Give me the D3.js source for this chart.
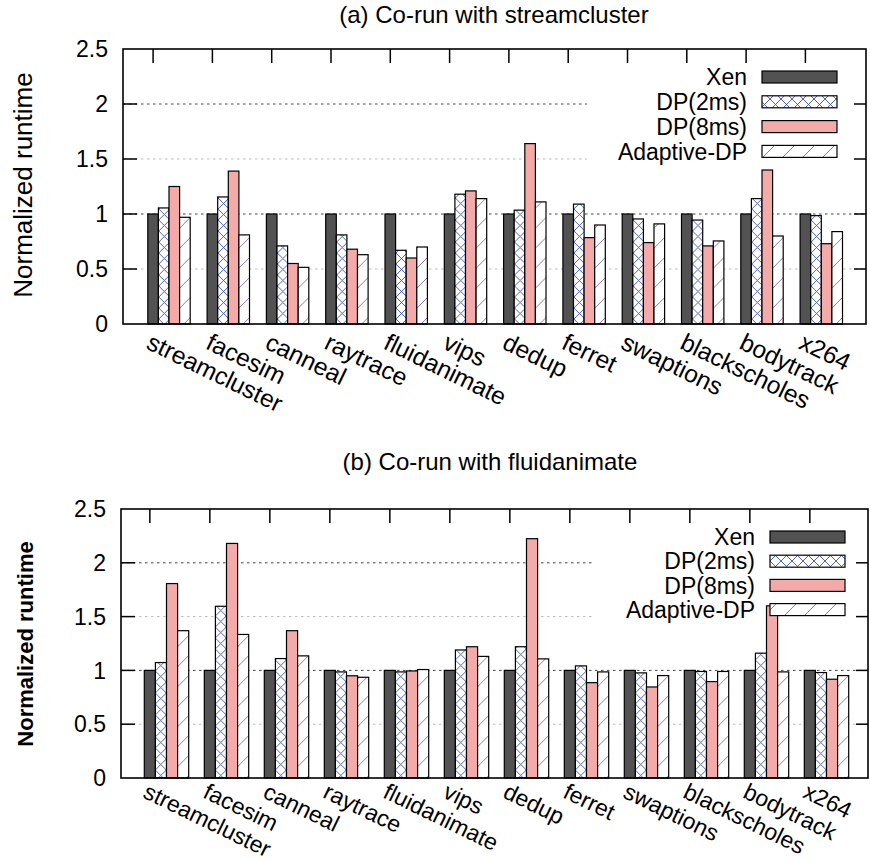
<!DOCTYPE html>
<html>
<head>
<meta charset="utf-8">
<script src="https://cdn.jsdelivr.net/npm/d3@7"></script>
<style>
  body { margin: 0; background: #fff; }
  svg { display: block; font-family: "Liberation Sans", Arial, Helvetica, sans-serif; }
</style>
</head>
<body>
<svg id="chart" width="870" height="862"></svg>
<script>
const benchmarks = ["streamcluster", "facesim", "canneal", "raytrace", "fluidanimate", "vips",
                    "dedup", "ferret", "swaptions", "blackscholes", "bodytrack", "x264"];
const seriesNames = ["Xen", "DP(2ms)", "DP(8ms)", "Adaptive-DP"];
const yTickValues = [0, 0.5, 1, 1.5, 2, 2.5];

// (a) co-run with streamcluster
const xenA = [1, 1, 1, 1, 1, 1, 1, 1, 1, 1, 1, 1];
const dp2A = [1.055, 1.155, 0.71, 0.81, 0.67, 1.18, 1.035, 1.09, 0.955, 0.945, 1.14, 0.985];
const dp8A = [1.25, 1.39, 0.55, 0.68, 0.60, 1.21, 1.64, 0.785, 0.74, 0.71, 1.40, 0.73];
const adA  = [0.97, 0.81, 0.515, 0.63, 0.70, 1.14, 1.11, 0.90, 0.91, 0.755, 0.80, 0.84];

// (b) co-run with fluidanimate
const xenB = [1, 1, 1, 1, 1, 1, 1, 1, 1, 1, 1, 1];
const dp2B = [1.073, 1.596, 1.11, 0.986, 0.986, 1.19, 1.22, 1.042, 0.977, 0.99, 1.16, 0.98];
const dp8B = [1.807, 2.18, 1.369, 0.95, 0.995, 1.22, 2.224, 0.886, 0.846, 0.896, 1.60, 0.918];
const adB  = [1.369, 1.334, 1.135, 0.936, 1.008, 1.13, 1.107, 0.986, 0.952, 0.99, 0.986, 0.952];

const svg = d3.select("#chart");
const defs = svg.append("defs");

// blue cross hatch for DP(2ms)
const cross = defs.append("pattern")
    .attr("id", "cross")
    .attr("patternUnits", "userSpaceOnUse")
    .attr("width", 11).attr("height", 11);
cross.append("rect").attr("width", 11).attr("height", 11).attr("fill", "#fff");
cross.append("path")
    .attr("d", "M0,0L11,11M11,0L0,11")
    .attr("stroke", "#3c4fc4").attr("stroke-width", 0.9);

// sparse slashes for Adaptive-DP
const slash = defs.append("pattern")
    .attr("id", "slash")
    .attr("patternUnits", "userSpaceOnUse")
    .attr("width", 20).attr("height", 20);
slash.append("rect").attr("width", 20).attr("height", 20).attr("fill", "#fff");
slash.append("path")
    .attr("d", "M0,20L20,0M-5,5L5,-5M15,25L25,15")
    .attr("stroke", "#8a6c98").attr("stroke-width", 0.9);

const fills = ["#525252", "url(#cross)", "#f5aaaa", "url(#slash)"];

function drawPanel(cfg, values) {
    const g = svg.append("g");

    const y = d3.scaleLinear().domain([0, 2.5]).range([cfg.bottom, cfg.top]);

    const x0 = d3.scaleBand()
        .domain(benchmarks)
        .range([cfg.barStart, cfg.barStart + 11 * cfg.step + cfg.groupWidth])
        .paddingInner(1 - cfg.groupWidth / cfg.step)
        .paddingOuter(0);
    const x1 = d3.scaleBand()
        .domain(seriesNames)
        .range([0, x0.bandwidth()]);

    const tickX = d => x0(d) + x1.bandwidth() / 2;

    // title
    g.append("text")
        .attr("x", cfg.titleX)
        .attr("y", cfg.titleY)
        .attr("text-anchor", "middle")
        .style("font-size", "24px")
        .text(cfg.title);

    // grid
    g.selectAll(".grid")
        .data([0.5, 1, 1.5, 2])
        .enter().append("line")
        .attr("x1", cfg.left).attr("x2", cfg.right)
        .attr("y1", d => y(d)).attr("y2", d => y(d))
        .attr("stroke", d => (d === 1 || d === 2) ? "#444" : "#bbb")
        .attr("stroke-width", 1)
        .attr("stroke-dasharray", "2.5,3.5");

    // legend background hides the grid behind the key
    g.append("rect")
        .attr("x", cfg.keyBgX)
        .attr("y", cfg.top + 1)
        .attr("width", cfg.right - cfg.keyBgX - 1)
        .attr("height", cfg.keyBgBottom - cfg.top)
        .attr("fill", "#fff");

    // bottom ticks (covered by bars)
    g.selectAll(".btick")
        .data(benchmarks)
        .enter().append("line")
        .attr("x1", tickX).attr("x2", tickX)
        .attr("y1", cfg.bottom).attr("y2", cfg.bottom - 14)
        .attr("stroke", "#000").attr("stroke-width", 1.5);

    // bars
    const groups = g.selectAll(".grp")
        .data(benchmarks)
        .enter().append("g")
        .attr("transform", d => `translate(${x0(d)},0)`);

    groups.selectAll("rect")
        .data((d, i) => values.map((arr, s) => ({ series: seriesNames[s], s: s, v: arr[i] })))
        .enter().append("rect")
        .attr("x", d => x1(d.series))
        .attr("y", d => y(d.v))
        .attr("width", x1.bandwidth())
        .attr("height", d => y(0) - y(d.v))
        .attr("fill", d => fills[d.s])
        .attr("stroke", "#000")
        .attr("stroke-width", 1.2);

    // legend
    const key = g.append("g");
    seriesNames.forEach((name, i) => {
        const cy = cfg.keyY + i * cfg.keyStep;
        key.append("text")
            .attr("x", cfg.keyTextX)
            .attr("y", cy)
            .attr("dy", "0.36em")
            .attr("text-anchor", "end")
            .style("font-size", "23px")
            .text(name);
        key.append("rect")
            .attr("x", cfg.keyTextX + 15)
            .attr("y", cy - 6)
            .attr("width", 75)
            .attr("height", 12)
            .attr("fill", fills[i])
            .attr("stroke", "#000")
            .attr("stroke-width", 1.2);
    });

    // frame
    g.append("rect")
        .attr("x", cfg.left).attr("y", cfg.top)
        .attr("width", cfg.right - cfg.left)
        .attr("height", cfg.bottom - cfg.top)
        .attr("fill", "none")
        .attr("stroke", "#000")
        .attr("stroke-width", 1.6);

    // top mirror ticks
    g.selectAll(".ttick")
        .data(benchmarks)
        .enter().append("line")
        .attr("x1", tickX).attr("x2", tickX)
        .attr("y1", cfg.top).attr("y2", cfg.top + 14)
        .attr("stroke", "#000").attr("stroke-width", 1.5);

    // y ticks left and right
    const inner = yTickValues.filter(v => v > 0 && v < 2.5);
    g.selectAll(".ltick")
        .data(inner)
        .enter().append("line")
        .attr("x1", cfg.left).attr("x2", cfg.left + 14)
        .attr("y1", d => y(d)).attr("y2", d => y(d))
        .attr("stroke", "#000").attr("stroke-width", 1.5);
    g.selectAll(".rtick")
        .data(inner)
        .enter().append("line")
        .attr("x1", cfg.right).attr("x2", cfg.right - 12)
        .attr("y1", d => y(d)).attr("y2", d => y(d))
        .attr("stroke", "#000").attr("stroke-width", 1.5);

    // y tick labels
    g.selectAll(".ylab")
        .data(yTickValues)
        .enter().append("text")
        .attr("x", cfg.left - 15)
        .attr("y", d => y(d))
        .attr("dy", "0.36em")
        .attr("text-anchor", "end")
        .style("font-size", "23px")
        .text(d => d3.format("")(d));

    // y axis title
    g.append("text")
        .attr("transform", `translate(${cfg.yTitleX},${cfg.yTitleY}) rotate(-90)`)
        .attr("text-anchor", "middle")
        .style("font-size", cfg.yTitleSize)
        .style("font-weight", cfg.yTitleWeight)
        .text("Normalized runtime");

    // x labels, rotated
    g.selectAll(".xlab")
        .data(benchmarks)
        .enter().append("text")
        .attr("transform", d => `translate(${tickX(d) - 8},${cfg.bottom + cfg.xLabOffset}) rotate(26)`)
        .attr("text-anchor", "start")
        .style("font-size", cfg.xLabSize)
        .text(d => d);
}

drawPanel({
    title: "(a) Co-run with streamcluster", titleX: 494, titleY: 23,
    left: 123, right: 866, top: 49, bottom: 324,
    barStart: 147.8, step: 59.3, groupWidth: 42.4,
    keyBgX: 587, keyBgBottom: 166, keyTextX: 747, keyY: 77, keyStep: 24.8,
    yTitleX: 32, yTitleY: 185, yTitleSize: "26px", yTitleWeight: "normal",
    xLabOffset: 24, xLabSize: "24.5px"
}, [xenA, dp2A, dp8A, adA]);

drawPanel({
    title: "(b) Co-run with fluidanimate", titleX: 490, titleY: 470,
    left: 121, right: 868, top: 509, bottom: 778,
    barStart: 144.3, step: 60, groupWidth: 44.4,
    keyBgX: 594, keyBgBottom: 621, keyTextX: 755, keyY: 537, keyStep: 24.2,
    yTitleX: 33, yTitleY: 644, yTitleSize: "22px", yTitleWeight: "bold",
    xLabOffset: 19, xLabSize: "23px"
}, [xenB, dp2B, dp8B, adB]);
</script>
</body>
</html>
